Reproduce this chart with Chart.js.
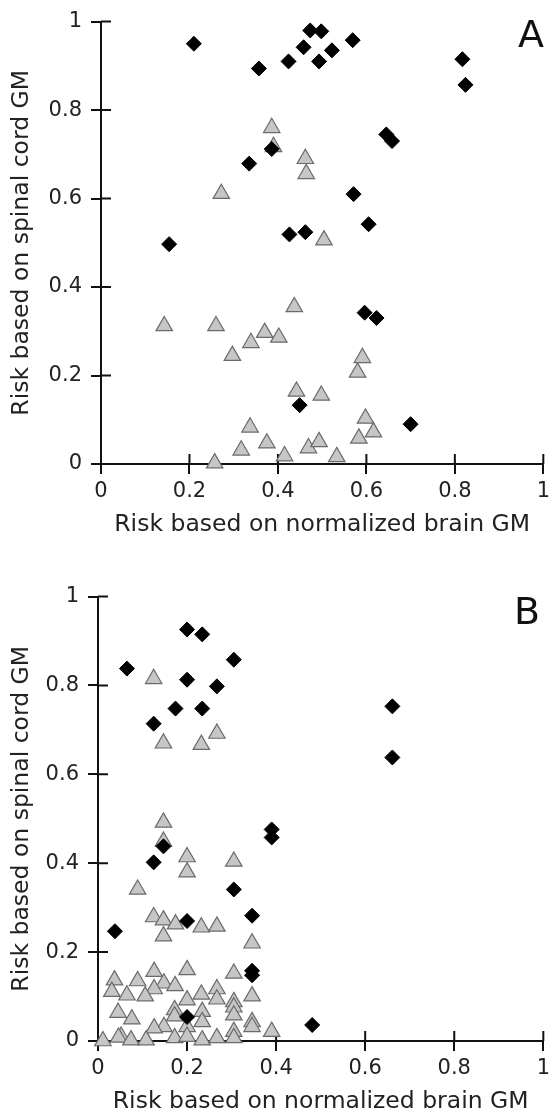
<!DOCTYPE html>
<html>
<head>
<meta charset="utf-8">
<script src="https://cdn.jsdelivr.net/npm/chart.js@4.4.1/dist/chart.umd.min.js"></script>
<style>
  html, body { margin: 0; padding: 0; background: #fff; }
  .panel { position: absolute; left: 0; }
  #wrapA { top: 0; }
  #wrapB { top: 575px; }
</style>
</head>
<body>
<div class="panel" id="wrapA"><canvas id="chartA" width="555" height="560"></canvas></div>
<div class="panel" id="wrapB"><canvas id="chartB" width="555" height="543"></canvas></div>
<script>
// tick values and their labels, shared by both panels and both axes
const tickValues = [0, 0.2, 0.4, 0.6, 0.8, 1];
const tickLabels = ['0', '0.2', '0.4', '0.6', '0.8', '1'];

// Panel A - black diamonds
const aDiamondX = [0.21, 0.357, 0.424, 0.458, 0.473, 0.498, 0.493, 0.522, 0.569, 0.817, 0.824, 0.645,
  0.658, 0.571, 0.605, 0.426, 0.462, 0.335, 0.386, 0.154, 0.449, 0.70, 0.596, 0.623];
const aDiamondY = [0.95, 0.894, 0.91, 0.942, 0.98, 0.978, 0.91, 0.935, 0.958, 0.915, 0.857, 0.745,
  0.73, 0.61, 0.542, 0.519, 0.524, 0.679, 0.712, 0.497, 0.133, 0.09, 0.342, 0.33];

// Panel A - grey triangles
const aTriangleX = [0.386, 0.39, 0.462, 0.464, 0.272, 0.504, 0.143, 0.26, 0.297, 0.339, 0.37, 0.402,
  0.437, 0.591, 0.58, 0.442, 0.498, 0.337, 0.317, 0.375, 0.469, 0.493, 0.257, 0.415, 0.533, 0.598,
  0.616, 0.583];
const aTriangleY = [0.76, 0.717, 0.69, 0.656, 0.611, 0.506, 0.312, 0.312, 0.245, 0.274, 0.297, 0.286,
  0.355, 0.24, 0.207, 0.164, 0.155, 0.083, 0.031, 0.047, 0.036, 0.05, 0.002, 0.018, 0.016, 0.103,
  0.072, 0.058];

// Panel B - black diamonds
const bDiamondX = [0.2, 0.234, 0.305, 0.065, 0.2, 0.267, 0.174, 0.234, 0.125, 0.661, 0.661, 0.147,
  0.125, 0.305, 0.2, 0.038, 0.346, 0.346, 0.346, 0.39, 0.39, 0.2, 0.481];
const bDiamondY = [0.926, 0.915, 0.858, 0.838, 0.813, 0.798, 0.748, 0.748, 0.714, 0.753, 0.638, 0.438,
  0.402, 0.341, 0.27, 0.247, 0.282, 0.158, 0.148, 0.476, 0.458, 0.054, 0.036];

// Panel B - grey triangles
const bTriangleX = [0.125, 0.147, 0.232, 0.267, 0.147, 0.147, 0.2, 0.2, 0.305, 0.089, 0.125, 0.147,
  0.174, 0.147, 0.232, 0.267, 0.346,
  0.126, 0.2, 0.305, 0.037, 0.089, 0.148, 0.173, 0.031, 0.065, 0.126, 0.106, 0.267, 0.267, 0.232,
  0.2, 0.346, 0.305, 0.305, 0.305, 0.045, 0.076, 0.172, 0.172, 0.234, 0.234, 0.2, 0.148, 0.126,
  0.346, 0.346, 0.305, 0.39, 0.052, 0.046, 0.011, 0.074, 0.108, 0.172, 0.2, 0.234, 0.267, 0.305];
const bTriangleY = [0.815, 0.67, 0.667, 0.692, 0.492, 0.449, 0.414, 0.38, 0.404, 0.341, 0.279, 0.272,
  0.263, 0.236, 0.256, 0.258, 0.22,
  0.156, 0.16, 0.152, 0.137, 0.135, 0.13, 0.124, 0.111, 0.103, 0.117, 0.101, 0.117, 0.094, 0.105,
  0.092, 0.101, 0.088, 0.076, 0.058, 0.064, 0.049, 0.07, 0.056, 0.066, 0.043, 0.032, 0.032, 0.029,
  0.043, 0.032, 0.021, 0.021, 0.01, 0.008, 0, 0.002, 0.002, 0.007, 0.01, 0.002, 0.007, 0.007];

const xTitle = 'Risk based on normalized brain GM';
const yTitle = 'Risk based on spinal cord GM';

const FONT = 'DejaVu Sans';
const TITLE_SIZE = 23.5;
const HALF_LINE = TITLE_SIZE * 1.2 / 2;

function toPoints(xs, ys) {
  return xs.map((x, i) => ({ x: x, y: ys[i] }));
}

function useTicks(axis) {
  axis.ticks = tickValues.map(v => ({ value: v }));
}

function tickText(value) {
  const i = tickValues.findIndex(v => Math.abs(v - value) < 1e-9);
  return i >= 0 ? tickLabels[i] : '';
}

// short tick marks drawn inside the plot so they cross the axis lines
const innerTicks = {
  id: 'innerTicks',
  beforeDatasetsDraw(chart) {
    const { ctx, scales: { x, y } } = chart;
    ctx.save();
    ctx.strokeStyle = '#111';
    ctx.lineWidth = 2;
    ctx.beginPath();
    x.ticks.forEach(t => {
      const px = x.getPixelForValue(t.value);
      ctx.moveTo(px, y.bottom);
      ctx.lineTo(px, y.bottom - 10);
    });
    y.ticks.forEach(t => {
      const py = y.getPixelForValue(t.value);
      ctx.moveTo(x.left, py);
      ctx.lineTo(x.left + 10, py);
    });
    ctx.stroke();
    ctx.restore();
  }
};

// panel letter in the upper right corner
const panelLetter = {
  id: 'panelLetter',
  afterDraw(chart, args, opts) {
    const ctx = chart.ctx;
    ctx.save();
    ctx.fillStyle = '#111';
    ctx.font = '38px "' + FONT + '"';
    ctx.textAlign = 'center';
    ctx.textBaseline = 'middle';
    ctx.fillText(opts.text, opts.x, opts.y);
    ctx.restore();
  }
};

function makeChart(id, diamonds, triangles, g) {
  const canvasH = document.getElementById(id).height;
  return new Chart(document.getElementById(id), {
    type: 'scatter',
    data: {
      datasets: [
        {
          data: diamonds,
          pointStyle: 'rectRot',
          pointRadius: 7.5,
          backgroundColor: '#000',
          borderColor: '#000',
          borderWidth: 1,
          clip: false
        },
        {
          data: triangles,
          pointStyle: 'triangle',
          pointRadius: 9.5,
          backgroundColor: '#c6c6c6',
          borderColor: '#6a6a6a',
          borderWidth: 1.2,
          clip: false
        }
      ]
    },
    options: {
      responsive: false,
      animation: false,
      events: [],
      layout: {
        padding: { top: g.top, right: 555 - g.right, left: 0, bottom: 0 }
      },
      plugins: {
        legend: { display: false },
        tooltip: { enabled: false },
        panelLetter: g.letter
      },
      scales: {
        x: {
          type: 'linear',
          min: 0,
          max: 1,
          afterBuildTicks: useTicks,
          afterFit: (scale) => { scale.height = canvasH - g.bottom; },
          border: { color: '#111', width: 2 },
          grid: { drawOnChartArea: false, tickLength: 10, color: '#111', lineWidth: 2 },
          ticks: { color: '#222', padding: 5, font: { family: FONT, size: 21 }, callback: tickText },
          title: {
            display: true,
            text: xTitle,
            color: '#222',
            font: { family: FONT, size: TITLE_SIZE },
            padding: { top: 0, bottom: g.xTitleFromBottom - HALF_LINE }
          }
        },
        y: {
          type: 'linear',
          min: 0,
          max: 1,
          afterBuildTicks: useTicks,
          afterFit: (scale) => { scale.width = g.left; },
          border: { color: '#111', width: 2 },
          grid: { drawOnChartArea: false, tickLength: 10, color: '#111', lineWidth: 2 },
          ticks: { color: '#222', padding: 9, font: { family: FONT, size: 21 }, callback: tickText },
          title: {
            display: true,
            text: yTitle,
            color: '#222',
            font: { family: FONT, size: TITLE_SIZE },
            padding: { top: 22 - HALF_LINE, bottom: 0 }
          }
        }
      }
    },
    plugins: [innerTicks, panelLetter]
  });
}

makeChart('chartA', toPoints(aDiamondX, aDiamondY), toPoints(aTriangleX, aTriangleY), {
  top: 19, bottom: 464, left: 101, right: 549, xTitleFromBottom: 35,
  letter: { text: 'A', x: 531, y: 37 }
});

makeChart('chartB', toPoints(bDiamondX, bDiamondY), toPoints(bTriangleX, bTriangleY), {
  top: 21, bottom: 466, left: 98, right: 547, xTitleFromBottom: 16,
  letter: { text: 'B', x: 527, y: 39 }
});
</script>
</body>
</html>
